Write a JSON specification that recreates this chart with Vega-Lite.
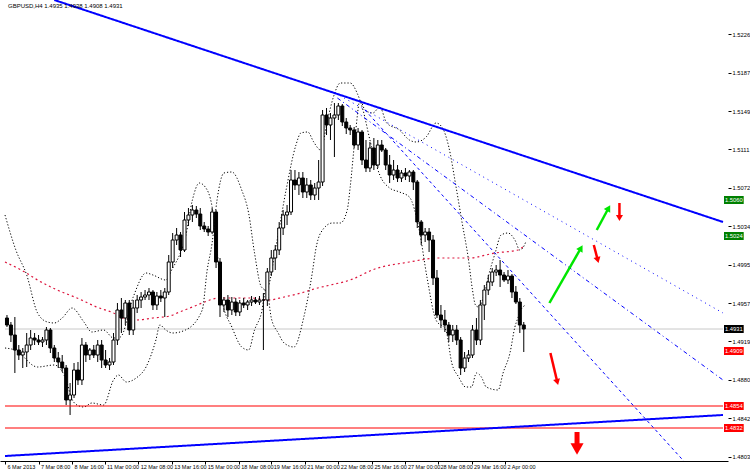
{
"$schema": "https://vega.github.io/schema/vega-lite/v6.json",
"width": 728, "height": 461,
"autosize": {"type": "none"},
"padding": {"left": 0, "top": 0, "right": 22, "bottom": 11},
"background": "white",
"config": {"view": {"stroke": null}, "font": "Liberation Sans",
 "axisX": {"labelAlign": "left", "labelOffset": 2, "labelFontSize": 5.5, "labelColor": "black", "labelPadding": 0, "labelOverlap": false, "labelFlush": false, "labelBound": false, "tickSize": 3, "tickColor": "black", "domainColor": "black", "domainWidth": 1, "grid": false, "title": null},
 "axisY": {"labelFontSize": 5.8, "labelColor": "black", "labelPadding": 1, "tickSize": 3, "tickColor": "black", "labelOverlap": false, "labelFlush": false, "labelBound": false, "domain": false, "grid": false, "title": null}},
"resolve": {"scale": {"color": "independent", "strokeDash": "independent", "strokeWidth": "independent"}},
"datasets": {
"bars": [
{"t":2,"o":1.4942,"h":1.4945,"l":1.4933,"c":1.4935},
{"t":6,"o":1.4935,"h":1.4938,"l":1.4918,"c":1.4925},
{"t":10,"o":1.4925,"h":1.4943,"l":1.4887,"c":1.4910},
{"t":14,"o":1.4910,"h":1.4915,"l":1.4900,"c":1.4905},
{"t":18,"o":1.4905,"h":1.4912,"l":1.4892,"c":1.4908},
{"t":22,"o":1.4908,"h":1.4927,"l":1.4893,"c":1.4915},
{"t":26,"o":1.4915,"h":1.4930,"l":1.4910,"c":1.4922},
{"t":30,"o":1.4922,"h":1.4927,"l":1.4915,"c":1.4920},
{"t":34,"o":1.4920,"h":1.4925,"l":1.4915,"c":1.4918},
{"t":38,"o":1.4918,"h":1.4923,"l":1.4913,"c":1.4920},
{"t":42,"o":1.4920,"h":1.4933,"l":1.4915,"c":1.4930},
{"t":46,"o":1.4930,"h":1.4932,"l":1.4907,"c":1.4912},
{"t":50,"o":1.4912,"h":1.4915,"l":1.4898,"c":1.4902},
{"t":54,"o":1.4902,"h":1.4908,"l":1.4892,"c":1.4898},
{"t":58,"o":1.4898,"h":1.4905,"l":1.4888,"c":1.4892},
{"t":62,"o":1.4892,"h":1.4895,"l":1.4855,"c":1.4860},
{"t":66,"o":1.4860,"h":1.4877,"l":1.4845,"c":1.4865},
{"t":70,"o":1.4865,"h":1.4897,"l":1.4862,"c":1.4890},
{"t":74,"o":1.4890,"h":1.4898,"l":1.4875,"c":1.4880},
{"t":78,"o":1.4880,"h":1.4922,"l":1.4875,"c":1.4915},
{"t":82,"o":1.4915,"h":1.4918,"l":1.4898,"c":1.4905},
{"t":86,"o":1.4905,"h":1.4912,"l":1.4900,"c":1.4910},
{"t":90,"o":1.4910,"h":1.4915,"l":1.4902,"c":1.4905},
{"t":94,"o":1.4905,"h":1.4920,"l":1.4898,"c":1.4915},
{"t":98,"o":1.4915,"h":1.4920,"l":1.4892,"c":1.4900},
{"t":102,"o":1.4900,"h":1.4910,"l":1.4892,"c":1.4895},
{"t":106,"o":1.4895,"h":1.4902,"l":1.4890,"c":1.4898},
{"t":110,"o":1.4898,"h":1.4927,"l":1.4895,"c":1.4920},
{"t":114,"o":1.4920,"h":1.4957,"l":1.4915,"c":1.4950},
{"t":118,"o":1.4950,"h":1.4962,"l":1.4927,"c":1.4942},
{"t":122,"o":1.4942,"h":1.4960,"l":1.4935,"c":1.4957},
{"t":126,"o":1.4957,"h":1.4960,"l":1.4925,"c":1.4930},
{"t":130,"o":1.4930,"h":1.4960,"l":1.4925,"c":1.4952},
{"t":134,"o":1.4952,"h":1.4965,"l":1.4947,"c":1.4960},
{"t":138,"o":1.4960,"h":1.4968,"l":1.4952,"c":1.4963},
{"t":142,"o":1.4963,"h":1.4970,"l":1.4960,"c":1.4965},
{"t":146,"o":1.4965,"h":1.4972,"l":1.4960,"c":1.4968},
{"t":150,"o":1.4968,"h":1.4970,"l":1.4950,"c":1.4955},
{"t":154,"o":1.4955,"h":1.4968,"l":1.4950,"c":1.4964},
{"t":158,"o":1.4964,"h":1.4970,"l":1.4958,"c":1.4962},
{"t":162,"o":1.4962,"h":1.4972,"l":1.4943,"c":1.4968},
{"t":166,"o":1.4968,"h":1.5005,"l":1.4965,"c":1.4998},
{"t":170,"o":1.4998,"h":1.5027,"l":1.4992,"c":1.5020},
{"t":174,"o":1.5020,"h":1.5032,"l":1.5015,"c":1.5025},
{"t":178,"o":1.5025,"h":1.5028,"l":1.5003,"c":1.5010},
{"t":182,"o":1.5010,"h":1.5048,"l":1.5008,"c":1.5040},
{"t":186,"o":1.5040,"h":1.5052,"l":1.5034,"c":1.5045},
{"t":190,"o":1.5045,"h":1.5055,"l":1.5038,"c":1.5050},
{"t":194,"o":1.5050,"h":1.5054,"l":1.5042,"c":1.5046},
{"t":198,"o":1.5046,"h":1.5052,"l":1.5030,"c":1.5034},
{"t":202,"o":1.5034,"h":1.5038,"l":1.5028,"c":1.5031},
{"t":206,"o":1.5031,"h":1.5034,"l":1.5024,"c":1.5028},
{"t":210,"o":1.5028,"h":1.5052,"l":1.5026,"c":1.5048},
{"t":214,"o":1.5048,"h":1.5050,"l":1.4992,"c":1.4998},
{"t":218,"o":1.4998,"h":1.5002,"l":1.4943,"c":1.4955},
{"t":222,"o":1.4955,"h":1.4963,"l":1.4948,"c":1.4960},
{"t":226,"o":1.4960,"h":1.4965,"l":1.4943,"c":1.4950},
{"t":230,"o":1.4950,"h":1.4963,"l":1.4945,"c":1.4958},
{"t":234,"o":1.4958,"h":1.4962,"l":1.4944,"c":1.4948},
{"t":238,"o":1.4948,"h":1.4960,"l":1.4944,"c":1.4957},
{"t":242,"o":1.4957,"h":1.4962,"l":1.4952,"c":1.4955},
{"t":246,"o":1.4955,"h":1.4960,"l":1.4950,"c":1.4958},
{"t":250,"o":1.4958,"h":1.4964,"l":1.4954,"c":1.4960},
{"t":254,"o":1.4960,"h":1.4963,"l":1.4956,"c":1.4958},
{"t":258,"o":1.4958,"h":1.4964,"l":1.4955,"c":1.4960},
{"t":262,"o":1.4960,"h":1.4967,"l":1.4910,"c":1.4960},
{"t":266,"o":1.4960,"h":1.4992,"l":1.4954,"c":1.4988},
{"t":270,"o":1.4988,"h":1.5010,"l":1.4984,"c":1.5002},
{"t":274,"o":1.5002,"h":1.5015,"l":1.4990,"c":1.5010},
{"t":278,"o":1.5010,"h":1.5038,"l":1.5005,"c":1.5032},
{"t":282,"o":1.5032,"h":1.5050,"l":1.5025,"c":1.5045},
{"t":286,"o":1.5045,"h":1.5055,"l":1.5035,"c":1.5048},
{"t":290,"o":1.5048,"h":1.5090,"l":1.5045,"c":1.5080},
{"t":294,"o":1.5080,"h":1.5090,"l":1.5070,"c":1.5075},
{"t":298,"o":1.5075,"h":1.5088,"l":1.5065,"c":1.5082},
{"t":302,"o":1.5082,"h":1.5088,"l":1.5062,"c":1.5068},
{"t":306,"o":1.5068,"h":1.5082,"l":1.5062,"c":1.5075},
{"t":310,"o":1.5075,"h":1.5080,"l":1.5060,"c":1.5065},
{"t":314,"o":1.5065,"h":1.5077,"l":1.5060,"c":1.5072},
{"t":318,"o":1.5072,"h":1.5100,"l":1.5060,"c":1.5078},
{"t":322,"o":1.5078,"h":1.5150,"l":1.5074,"c":1.5145},
{"t":326,"o":1.5145,"h":1.5152,"l":1.5125,"c":1.5135},
{"t":330,"o":1.5135,"h":1.5147,"l":1.5120,"c":1.5142},
{"t":334,"o":1.5142,"h":1.5157,"l":1.5103,"c":1.5145},
{"t":338,"o":1.5145,"h":1.5157,"l":1.5140,"c":1.5154},
{"t":342,"o":1.5154,"h":1.5156,"l":1.5134,"c":1.5138},
{"t":346,"o":1.5138,"h":1.5142,"l":1.5126,"c":1.5132},
{"t":350,"o":1.5132,"h":1.5135,"l":1.5125,"c":1.5130},
{"t":354,"o":1.5130,"h":1.5133,"l":1.5112,"c":1.5115},
{"t":358,"o":1.5115,"h":1.5132,"l":1.5110,"c":1.5128},
{"t":362,"o":1.5128,"h":1.5130,"l":1.5095,"c":1.5100},
{"t":366,"o":1.5100,"h":1.5120,"l":1.5088,"c":1.5092},
{"t":370,"o":1.5092,"h":1.5118,"l":1.5088,"c":1.5112},
{"t":374,"o":1.5112,"h":1.5122,"l":1.5090,"c":1.5095},
{"t":378,"o":1.5095,"h":1.5120,"l":1.5092,"c":1.5115},
{"t":382,"o":1.5115,"h":1.5120,"l":1.5108,"c":1.5110},
{"t":386,"o":1.5110,"h":1.5112,"l":1.5090,"c":1.5095},
{"t":390,"o":1.5095,"h":1.5105,"l":1.5077,"c":1.5085},
{"t":394,"o":1.5085,"h":1.5100,"l":1.5080,"c":1.5090},
{"t":398,"o":1.5090,"h":1.5095,"l":1.5078,"c":1.5082},
{"t":402,"o":1.5082,"h":1.5090,"l":1.5078,"c":1.5087},
{"t":406,"o":1.5087,"h":1.5092,"l":1.5080,"c":1.5084},
{"t":410,"o":1.5084,"h":1.5090,"l":1.5078,"c":1.5088},
{"t":414,"o":1.5088,"h":1.5090,"l":1.5070,"c":1.5078},
{"t":418,"o":1.5078,"h":1.5080,"l":1.5032,"c":1.5038},
{"t":422,"o":1.5038,"h":1.5040,"l":1.5015,"c":1.5025},
{"t":426,"o":1.5025,"h":1.5032,"l":1.5018,"c":1.5028},
{"t":430,"o":1.5028,"h":1.5032,"l":1.5008,"c":1.5020},
{"t":434,"o":1.5020,"h":1.5025,"l":1.4975,"c":1.4982},
{"t":438,"o":1.4982,"h":1.4990,"l":1.4942,"c":1.4945},
{"t":442,"o":1.4945,"h":1.4955,"l":1.4932,"c":1.4940},
{"t":446,"o":1.4940,"h":1.4950,"l":1.4928,"c":1.4935},
{"t":450,"o":1.4935,"h":1.4938,"l":1.4918,"c":1.4925},
{"t":454,"o":1.4925,"h":1.4935,"l":1.4918,"c":1.4930},
{"t":458,"o":1.4930,"h":1.4935,"l":1.4915,"c":1.4920},
{"t":462,"o":1.4920,"h":1.4923,"l":1.4885,"c":1.4892},
{"t":466,"o":1.4892,"h":1.4908,"l":1.4888,"c":1.4902},
{"t":470,"o":1.4902,"h":1.4910,"l":1.4898,"c":1.4905},
{"t":474,"o":1.4905,"h":1.4935,"l":1.4902,"c":1.4930},
{"t":478,"o":1.4930,"h":1.4942,"l":1.4915,"c":1.4920},
{"t":482,"o":1.4920,"h":1.4960,"l":1.4915,"c":1.4955},
{"t":486,"o":1.4955,"h":1.4975,"l":1.4940,"c":1.4970},
{"t":490,"o":1.4970,"h":1.4985,"l":1.4965,"c":1.4978},
{"t":494,"o":1.4978,"h":1.4992,"l":1.4974,"c":1.4988},
{"t":498,"o":1.4988,"h":1.4995,"l":1.4984,"c":1.4990},
{"t":502,"o":1.4990,"h":1.5000,"l":1.4973,"c":1.4985},
{"t":506,"o":1.4985,"h":1.4988,"l":1.4978,"c":1.4980},
{"t":510,"o":1.4980,"h":1.4990,"l":1.4976,"c":1.4984},
{"t":514,"o":1.4984,"h":1.4986,"l":1.4962,"c":1.4968},
{"t":518,"o":1.4968,"h":1.4974,"l":1.4956,"c":1.4958},
{"t":522,"o":1.4958,"h":1.4962,"l":1.4927,"c":1.4935},
{"t":526,"o":1.4935,"h":1.4938,"l":1.4908,"c":1.4931}
],
"lines": [
{"id":"bid","t":0,"p":1.4931},{"id":"bid","t":728,"p":1.4931},
{"id":"sup1","t":0,"p":1.4854},{"id":"sup1","t":728,"p":1.4854},
{"id":"sup2","t":0,"p":1.4832},{"id":"sup2","t":728,"p":1.4832},
{"id":"trend","t":50,"p":1.5260},{"id":"trend","t":728,"p":1.5038},
{"id":"lower","t":0,"p":1.4804},{"id":"lower","t":728,"p":1.4845},
{"id":"d1","t":335,"p":1.5167},{"id":"d1","t":728,"p":1.4947},
{"id":"d2","t":337,"p":1.5162},{"id":"d2","t":728,"p":1.4880},
{"id":"d3","t":365,"p":1.5150},{"id":"d3","t":690,"p":1.4797},
{"id":"ma","t":0,"p":1.4998},{"id":"ma","t":20,"p":1.4988},{"id":"ma","t":33,"p":1.4980},{"id":"ma","t":53,"p":1.4970},{"id":"ma","t":73,"p":1.4962},{"id":"ma","t":93,"p":1.4953},{"id":"ma","t":110,"p":1.4947},{"id":"ma","t":120,"p":1.4942},{"id":"ma","t":133,"p":1.4940},{"id":"ma","t":150,"p":1.4942},{"id":"ma","t":167,"p":1.4944},{"id":"ma","t":177,"p":1.4948},{"id":"ma","t":190,"p":1.4953},{"id":"ma","t":200,"p":1.4957},{"id":"ma","t":217,"p":1.4962},{"id":"ma","t":237,"p":1.4962},{"id":"ma","t":250,"p":1.4962},{"id":"ma","t":267,"p":1.4960},{"id":"ma","t":283,"p":1.4963},{"id":"ma","t":300,"p":1.4967},{"id":"ma","t":317,"p":1.4972},{"id":"ma","t":330,"p":1.4975},{"id":"ma","t":350,"p":1.4980},{"id":"ma","t":375,"p":1.4991},{"id":"ma","t":410,"p":1.4998},{"id":"ma","t":440,"p":1.5002},{"id":"ma","t":470,"p":1.5002},{"id":"ma","t":497,"p":1.5007},{"id":"ma","t":520,"p":1.5010},{"id":"ma","t":525,"p":1.5013},
{"id":"bandA","t":0,"p":1.5045},{"id":"bandA","t":11,"p":1.5010},{"id":"bandA","t":22,"p":1.4985},{"id":"bandA","t":33,"p":1.4947},{"id":"bandA","t":43,"p":1.4938},{"id":"bandA","t":50,"p":1.4937},{"id":"bandA","t":58,"p":1.4942},{"id":"bandA","t":68,"p":1.4952},{"id":"bandA","t":80,"p":1.4938},{"id":"bandA","t":88,"p":1.4928},{"id":"bandA","t":100,"p":1.4930},{"id":"bandA","t":110,"p":1.4922},{"id":"bandA","t":117,"p":1.4923},{"id":"bandA","t":130,"p":1.4963},{"id":"bandA","t":143,"p":1.4987},{"id":"bandA","t":150,"p":1.4985},{"id":"bandA","t":163,"p":1.4980},{"id":"bandA","t":170,"p":1.4992},{"id":"bandA","t":177,"p":1.5005},{"id":"bandA","t":183,"p":1.5023},{"id":"bandA","t":190,"p":1.5060},{"id":"bandA","t":197,"p":1.5077},{"id":"bandA","t":203,"p":1.5073},{"id":"bandA","t":210,"p":1.5053},{"id":"bandA","t":215,"p":1.5010},{"id":"bandA","t":220,"p":1.4960},{"id":"bandA","t":230,"p":1.4933},{"id":"bandA","t":240,"p":1.4913},{"id":"bandA","t":247,"p":1.4910},{"id":"bandA","t":253,"p":1.4930},{"id":"bandA","t":260,"p":1.4947},{"id":"bandA","t":265,"p":1.4972},{"id":"bandA","t":270,"p":1.4942},{"id":"bandA","t":277,"p":1.4927},{"id":"bandA","t":283,"p":1.4917},{"id":"bandA","t":293,"p":1.4913},{"id":"bandA","t":303,"p":1.4943},{"id":"bandA","t":312,"p":1.4990},{"id":"bandA","t":315,"p":1.5010},{"id":"bandA","t":320,"p":1.5027},{"id":"bandA","t":332,"p":1.5037},{"id":"bandA","t":340,"p":1.5037},{"id":"bandA","t":347,"p":1.5050},{"id":"bandA","t":350,"p":1.5073},{"id":"bandA","t":355,"p":1.5123},{"id":"bandA","t":360,"p":1.5160},{"id":"bandA","t":365,"p":1.5150},{"id":"bandA","t":373,"p":1.5147},{"id":"bandA","t":380,"p":1.5153},{"id":"bandA","t":387,"p":1.5137},{"id":"bandA","t":400,"p":1.5130},{"id":"bandA","t":410,"p":1.5120},{"id":"bandA","t":417,"p":1.5118},{"id":"bandA","t":427,"p":1.5123},{"id":"bandA","t":437,"p":1.5137},{"id":"bandA","t":443,"p":1.5133},{"id":"bandA","t":450,"p":1.5113},{"id":"bandA","t":457,"p":1.5075},{"id":"bandA","t":463,"p":1.5040},{"id":"bandA","t":470,"p":1.5000},{"id":"bandA","t":474,"p":1.4970},{"id":"bandA","t":477,"p":1.4955},{"id":"bandA","t":480,"p":1.4953},{"id":"bandA","t":487,"p":1.4970},{"id":"bandA","t":490,"p":1.4983},{"id":"bandA","t":497,"p":1.5007},{"id":"bandA","t":503,"p":1.5025},{"id":"bandA","t":510,"p":1.5027},{"id":"bandA","t":517,"p":1.5020},{"id":"bandA","t":522,"p":1.5010},{"id":"bandA","t":525,"p":1.5012},{"id":"bandA","t":528,"p":1.5018},
{"id":"bandB","t":0,"p":1.4912},{"id":"bandB","t":10,"p":1.4910},{"id":"bandB","t":33,"p":1.4893},{"id":"bandB","t":50,"p":1.4895},{"id":"bandB","t":57,"p":1.4890},{"id":"bandB","t":63,"p":1.4877},{"id":"bandB","t":67,"p":1.4863},{"id":"bandB","t":73,"p":1.4855},{"id":"bandB","t":80,"p":1.4853},{"id":"bandB","t":88,"p":1.4857},{"id":"bandB","t":100,"p":1.4855},{"id":"bandB","t":110,"p":1.4880},{"id":"bandB","t":115,"p":1.4885},{"id":"bandB","t":123,"p":1.4878},{"id":"bandB","t":133,"p":1.4882},{"id":"bandB","t":143,"p":1.4893},{"id":"bandB","t":153,"p":1.4920},{"id":"bandB","t":157,"p":1.4935},{"id":"bandB","t":163,"p":1.4930},{"id":"bandB","t":170,"p":1.4927},{"id":"bandB","t":183,"p":1.4930},{"id":"bandB","t":200,"p":1.4950},{"id":"bandB","t":205,"p":1.4990},{"id":"bandB","t":210,"p":1.5017},{"id":"bandB","t":215,"p":1.5060},{"id":"bandB","t":222,"p":1.5087},{"id":"bandB","t":230,"p":1.5088},{"id":"bandB","t":240,"p":1.5070},{"id":"bandB","t":247,"p":1.5047},{"id":"bandB","t":253,"p":1.5007},{"id":"bandB","t":260,"p":1.4973},{"id":"bandB","t":265,"p":1.4970},{"id":"bandB","t":275,"p":1.5015},{"id":"bandB","t":285,"p":1.5070},{"id":"bandB","t":295,"p":1.5115},{"id":"bandB","t":300,"p":1.5127},{"id":"bandB","t":307,"p":1.5128},{"id":"bandB","t":313,"p":1.5118},{"id":"bandB","t":320,"p":1.5110},{"id":"bandB","t":327,"p":1.5140},{"id":"bandB","t":333,"p":1.5163},{"id":"bandB","t":340,"p":1.5177},{"id":"bandB","t":350,"p":1.5177},{"id":"bandB","t":357,"p":1.5167},{"id":"bandB","t":363,"p":1.5150},{"id":"bandB","t":370,"p":1.5120},{"id":"bandB","t":380,"p":1.5085},{"id":"bandB","t":390,"p":1.5072},{"id":"bandB","t":400,"p":1.5068},{"id":"bandB","t":410,"p":1.5063},{"id":"bandB","t":420,"p":1.5030},{"id":"bandB","t":428,"p":1.4982},{"id":"bandB","t":437,"p":1.4940},{"id":"bandB","t":447,"p":1.4930},{"id":"bandB","t":453,"p":1.4897},{"id":"bandB","t":460,"p":1.4883},{"id":"bandB","t":467,"p":1.4873},{"id":"bandB","t":473,"p":1.4873},{"id":"bandB","t":478,"p":1.4887},{"id":"bandB","t":483,"p":1.4883},{"id":"bandB","t":488,"p":1.4873},{"id":"bandB","t":500,"p":1.4870},{"id":"bandB","t":505,"p":1.4887},{"id":"bandB","t":512,"p":1.4907},{"id":"bandB","t":517,"p":1.4933},{"id":"bandB","t":520,"p":1.4942},{"id":"bandB","t":523,"p":1.4950},{"id":"bandB","t":528,"p":1.4955}
],
"arrows": [
{"id":"g1","t":552,"p":1.4957,"t2":584,"p2":1.5012},
{"id":"g2","t":600,"p":1.5030,"t2":612,"p2":1.5052},
{"id":"r1","t":623,"p":1.5057,"t2":623,"p2":1.5042},
{"id":"r2","t":597,"p":1.5015,"t2":601,"p2":1.5000},
{"id":"r3","t":553,"p":1.4907,"t2":560,"p2":1.4878},
{"id":"r4","t":580,"p":1.4828,"t2":580,"p2":1.4811}
],
"boxes": [
{"kind":"buy","p":1.5060,"label":"1.5060"},
{"kind":"buy","p":1.5024,"label":"1.5024"},
{"kind":"bid","p":1.4931,"label":"1.4931"},
{"kind":"sell","p":1.4909,"label":"1.4909"},
{"kind":"sell","p":1.4854,"label":"1.4854"},
{"kind":"sell","p":1.4832,"label":"1.4832"}
],
"heading": [{"label": "GBPUSD,H4  1.4935 1.4938 1.4908 1.4931"}]
},
"layer": [
{
"resolve": {"scale": {"color": "independent", "strokeDash": "independent", "strokeWidth": "independent"}},
"encoding": {
"x": {"field": "t", "type": "quantitative", "scale": {"domain": [0, 728], "nice": false, "zero": false},
 "axis": {"title": null, "values": [0,34,68,101,135,169,203,237,270,304,338,372,406,439,473,507],
  "labelExpr": "['6 Mar 2013','7 Mar 08:00','8 Mar 16:00','11 Mar 00:00','12 Mar 08:00','13 Mar 16:00','15 Mar 00:00','18 Mar 08:00','19 Mar 16:00','21 Mar 00:00','22 Mar 08:00','25 Mar 16:00','27 Mar 00:00','28 Mar 08:00','29 Mar 16:00','2 Apr 00:00'][indexof([0,34,68,101,135,169,203,237,270,304,338,372,406,439,473,507], datum.value)]",
  "labelOverlap": false}},
"y": {"field": "p", "type": "quantitative", "scale": {"domain": [1.4799, 1.526], "nice": false, "zero": false},
 "axis": {"title": null, "orient": "right",
  "values": [1.5245,1.52258,1.52066,1.51874,1.51682,1.5149,1.51298,1.51106,1.50914,1.50722,1.5053,1.50338,1.50146,1.49954,1.49762,1.4957,1.49378,1.49186,1.48994,1.48802,1.4861,1.48418,1.48226,1.48034],
  "format": ".4f", "labelOverlap": false}}
},
"layer": [
{"data": {"name": "lines"}, "transform": [{"filter": {"field": "id", "oneOf": ["bid", "bandA", "bandB", "ma"]}}],
 "mark": {"type": "line", "clip": true, "interpolate": "monotone"},
 "encoding": {
  "color": {"field": "id", "type": "nominal", "legend": null, "scale": {"domain": ["bid","bandA","bandB","ma"], "range": ["#C8C8C8","#000000","#000000","#DC143C"]}},
  "strokeDash": {"field": "id", "type": "nominal", "legend": null, "scale": {"domain": ["bid","bandA","bandB","ma"], "range": [[1,0],[1.2,2],[1.2,2],[2,3]]}},
  "strokeWidth": {"field": "id", "type": "nominal", "legend": null, "scale": {"type": "ordinal", "domain": ["bid","bandA","bandB","ma"], "range": [1,1,1,1.2]}}
 }},
{"data": {"name": "bars"}, "mark": {"type": "rule", "color": "black", "strokeWidth": 1},
 "encoding": {"y": {"field": "h", "type": "quantitative", "scale": {"domain": [1.4799, 1.526], "nice": false, "zero": false}}, "y2": {"field": "l"}}},
{"data": {"name": "bars"}, "mark": {"type": "bar", "size": 3, "stroke": "black", "strokeWidth": 1},
 "encoding": {"y": {"field": "o", "type": "quantitative", "scale": {"domain": [1.4799, 1.526], "nice": false, "zero": false}}, "y2": {"field": "c"},
  "fill": {"condition": {"test": "datum.c < datum.o", "value": "black"}, "value": "white"}}},
{"data": {"name": "lines"}, "transform": [{"filter": {"field": "id", "oneOf": ["trend", "lower", "d1", "d2", "d3", "sup1", "sup2"]}}],
 "mark": {"type": "line", "clip": true},
 "encoding": {
  "color": {"field": "id", "type": "nominal", "legend": null, "scale": {"domain": ["trend","lower","d1","d2","d3","sup1","sup2"], "range": ["#0000FF","#0000FF","#0000FF","#0000FF","#0000FF","#FF0000","#FF0000"]}},
  "strokeDash": {"field": "id", "type": "nominal", "legend": null, "scale": {"domain": ["trend","lower","d1","d2","d3","sup1","sup2"], "range": [[1,0],[1,0],[1,4],[4,3,1,3],[3,3],[1,0],[1,0]]}},
  "strokeWidth": {"field": "id", "type": "nominal", "legend": null, "scale": {"type": "ordinal", "domain": ["trend","lower","d1","d2","d3","sup1","sup2"], "range": [2,2,1,1,1,1.2,1.2]}}
 }},
{"data": {"name": "arrows"}, "mark": {"type": "rule", "strokeCap": "butt"},
 "encoding": {"x2": {"field": "t2"}, "y2": {"field": "p2"},
  "color": {"field": "id", "type": "nominal", "legend": null, "scale": {"domain": ["g1","g2","r1","r2","r3","r4"], "range": ["#00E600","#00E600","#FF0000","#FF0000","#FF0000","#FF0000"]}},
  "strokeWidth": {"field": "id", "type": "nominal", "legend": null, "scale": {"type": "ordinal", "domain": ["g1","g2","r1","r2","r3","r4"], "range": [2.5,2.5,2.5,2.5,2.5,5]}}}},
{"data": {"name": "arrows"}, "transform": [{"filter": {"field": "id", "oneOf": ["g1", "g2"]}}],
 "mark": {"type": "point", "shape": "triangle-up", "filled": true, "opacity": 1, "angle": 30, "size": 55, "color": "#00E600"},
 "encoding": {"x": {"field": "t2", "type": "quantitative", "scale": {"domain": [0, 728], "nice": false, "zero": false}}, "y": {"field": "p2", "type": "quantitative", "scale": {"domain": [1.4799, 1.526], "nice": false, "zero": false}}}},
{"data": {"name": "arrows"}, "transform": [{"filter": {"field": "id", "oneOf": ["r1"]}}],
 "mark": {"type": "point", "shape": "triangle-up", "filled": true, "opacity": 1, "angle": 180, "size": 50, "color": "#FF0000"},
 "encoding": {"x": {"field": "t2", "type": "quantitative", "scale": {"domain": [0, 728], "nice": false, "zero": false}}, "y": {"field": "p2", "type": "quantitative", "scale": {"domain": [1.4799, 1.526], "nice": false, "zero": false}}}},
{"data": {"name": "arrows"}, "transform": [{"filter": {"field": "id", "oneOf": ["r2", "r3"]}}],
 "mark": {"type": "point", "shape": "triangle-up", "filled": true, "opacity": 1, "angle": 165, "size": 50, "color": "#FF0000"},
 "encoding": {"x": {"field": "t2", "type": "quantitative", "scale": {"domain": [0, 728], "nice": false, "zero": false}}, "y": {"field": "p2", "type": "quantitative", "scale": {"domain": [1.4799, 1.526], "nice": false, "zero": false}}}},
{"data": {"name": "arrows"}, "transform": [{"filter": {"field": "id", "oneOf": ["r4"]}}],
 "mark": {"type": "point", "shape": "triangle-up", "filled": true, "opacity": 1, "angle": 180, "size": 170, "color": "#FF0000"},
 "encoding": {"x": {"field": "t2", "type": "quantitative", "scale": {"domain": [0, 728], "nice": false, "zero": false}}, "y": {"field": "p2", "type": "quantitative", "scale": {"domain": [1.4799, 1.526], "nice": false, "zero": false}}}}
]
},
{"data": {"name": "boxes"}, "mark": {"type": "rule", "strokeWidth": 8, "strokeCap": "butt"},
 "encoding": {"x": {"datum": 729, "type": "quantitative"}, "x2": {"datum": 749},
  "y": {"field": "p", "type": "quantitative"},
  "color": {"field": "kind", "type": "nominal", "legend": null, "scale": {"domain": ["buy", "bid", "sell"], "range": ["#008000", "#000000", "#FF0000"]}}}},
{"data": {"name": "boxes"}, "mark": {"type": "text", "color": "white", "fontSize": 5.8, "align": "center", "baseline": "middle"},
 "encoding": {"x": {"datum": 739, "type": "quantitative"}, "y": {"field": "p", "type": "quantitative"}, "text": {"field": "label", "type": "nominal"}}},
{"data": {"name": "heading"},
 "mark": {"type": "text", "color": "black", "fontSize": 6, "align": "left", "baseline": "middle"},
 "encoding": {"x": {"datum": 3, "type": "quantitative"}, "y": {"datum": 1.5254, "type": "quantitative"}, "text": {"field": "label", "type": "nominal"}}}
]
}
